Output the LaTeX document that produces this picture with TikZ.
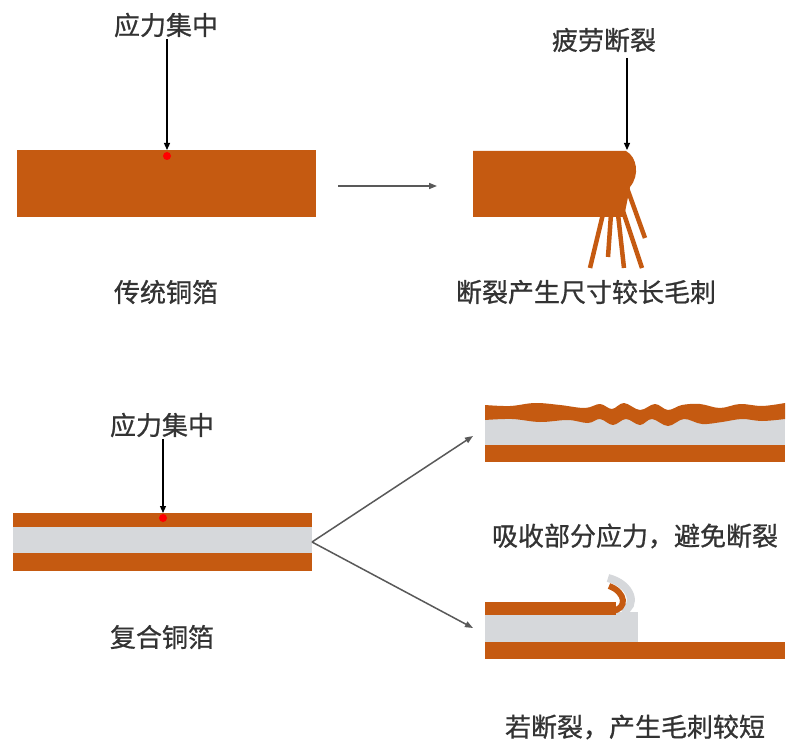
\documentclass[tikz,border=0pt]{standalone}
\usepackage{fontspec}
\newfontfamily\cjk[FakeBold=0.8]{Noto Sans CJK SC}
\usetikzlibrary{arrows.meta}
\definecolor{cu}{HTML}{C55A11}
\definecolor{pet}{HTML}{D6D8DB}
\definecolor{txt}{HTML}{333333}
\definecolor{arr}{HTML}{595959}
\begin{document}
\begin{tikzpicture}[x=1pt,y=-1pt,
  lbl/.style={font=\cjk\fontsize{26}{30}\selectfont, text=txt, inner sep=2pt},
  blackarrow/.style={draw=black, line width=1.2pt, -{Triangle[length=7pt,width=6pt]}},
  grayarrow/.style={draw=arr, line width=1.5pt, -{Triangle[length=8pt,width=6pt]}},
  copper/.style={fill=cu, draw=none},
  film/.style={fill=pet, draw=none},
  fiber/.style={draw=cu, line width=4.5pt}]
\useasboundingbox (0,0) rectangle (790,743);
\fill[white] (0,0) rectangle (790,743);

% ---------- traditional foil ----------
\fill[copper] (17,150) rectangle (316,217);
\coordinate (hit1) at (167,150);
\fill[red] (167,156) circle (4);
\node[lbl] (stress1) at (166,25) {应力集中};
\draw[blackarrow] (stress1.south -| hit1) -- (hit1);
\node[lbl] (trad) at (166,292) {传统铜箔};

% middle arrow
\coordinate (mA) at (338,186);
\coordinate (mB) at (437,186);
\draw[grayarrow] (mA) -- (mB);

% ---------- broken traditional foil ----------
\fill[copper] (473,151) -- (626,151) .. controls (637,157) and (640,175) .. (630,187)
  -- (624,217) -- (473,217) -- cycle;
\draw[fiber] (603,214) -- (590,268);
\draw[fiber] (611,214) -- (608,257);
\draw[fiber] (618,214) -- (624,268);
\draw[fiber] (622,208) -- (642,268);
\draw[fiber] (627,188) -- (645,238);
\coordinate (hit2) at (627,150);
\coordinate (s2) at (627,58);
\node[lbl] (fatigue) at (604,40) {疲劳断裂};
\draw[blackarrow] (s2) -- (hit2);
\node[lbl] (longburr) at (586,292) {断裂产生尺寸较长毛刺};

% ---------- composite foil ----------
\fill[copper] (13,513) rectangle (312,527);
\fill[film] (13,527) rectangle (312,553);
\fill[copper] (13,553) rectangle (312,571);
\coordinate (hit3) at (163,513);
\fill[red] (163,518) circle (4);
\node[lbl] (stress2) at (162,425) {应力集中};
\draw[blackarrow] (stress2.south -| hit3) -- (hit3);
\node[lbl] (comp) at (162,637) {复合铜箔};

\coordinate (src) at (312,542);
\coordinate (up) at (473,436);
\coordinate (dn) at (473,628);
\draw[grayarrow] (src) -- (up);
\draw[grayarrow] (src) -- (dn);

% ---------- composite: absorbs stress ----------
\fill[film] (485,416) rectangle (785,445);
\fill[copper] (485,445) rectangle (785,462);
\fill[copper] plot[smooth, tension=0.6] coordinates {(485,405) (510,406) (535,403) (560,405) (585,408) (600,404) (612,409) (624,403) (640,410) (655,404) (668,410) (682,405) (700,404) (720,408) (740,404) (762,406) (785,403)}
  -- (785,419)
  -- plot[smooth, tension=0.6] coordinates {(785,419) (762,421) (742,419) (722,422) (702,424) (684,419) (668,426) (652,419) (640,425) (626,419) (613,425) (600,419) (588,423) (568,420) (540,422) (512,419) (485,420)}
  -- cycle;
\node[lbl] (absorb) at (635,536) {吸收部分应力，避免断裂};

% ---------- composite: short burr ----------
\fill[film] (485,612) rectangle (638,642);
\draw[pet, line width=8pt] (622,612) .. controls (638,606) and (632,584) .. (608,578);
\fill[copper] (485,602) rectangle (616,615);
\draw[cu, line width=6pt] (612,611) .. controls (628,609) and (626,592) .. (609,586);
\fill[copper] (485,642) rectangle (785,659);
\node[lbl] (shortburr) at (635,727) {若断裂，产生毛刺较短};
\end{tikzpicture}
\end{document}
